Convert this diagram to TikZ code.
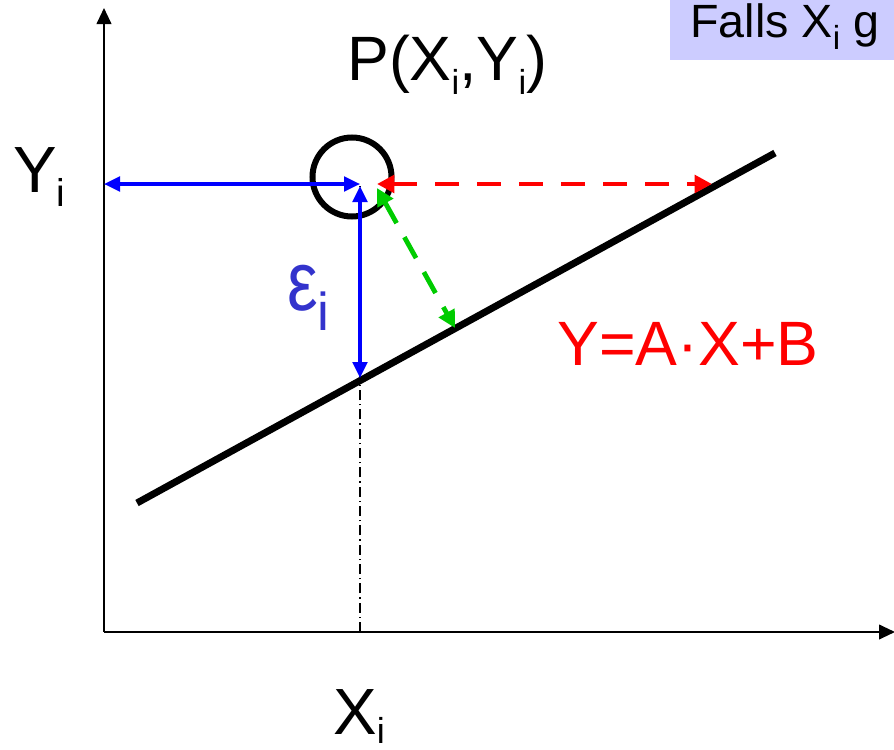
\documentclass[tikz,border=0pt]{standalone}
\usepackage{fontspec}
\setmainfont{Liberation Sans}
\usetikzlibrary{arrows.meta}
\definecolor{lav}{HTML}{CCCCFF}
\definecolor{epsblue}{HTML}{3333CC}
\definecolor{arrblue}{HTML}{0000FF}
\definecolor{arrred}{HTML}{FF0000}
\definecolor{arrgreen}{HTML}{00CC00}
\newcommand\mysub[3]{\raisebox{-#2}{\fontsize{#1}{#1}\selectfont #3}}
\begin{document}
\begin{tikzpicture}[x=0.75pt,y=-0.75pt,
  lbl/.style={inner sep=0pt,anchor=base west},
  axisline/.style={line width=1.5pt,-{Triangle[length=12pt,width=11pt]}},
  regline/.style={line width=5.25pt},
  bluearr/.style={arrblue,line width=2.4pt,{Triangle[length=12pt,width=11pt]}-{Triangle[length=12pt,width=11pt]}},
  redarr/.style={arrred,line width=3.6pt,dash pattern=on 18pt off 13.5pt,{Triangle[length=13pt,width=13pt]}-{Triangle[length=13pt,width=13pt]}},
  greenarr/.style={arrgreen,line width=3.6pt,dash pattern=on 18pt off 12pt,{Triangle[length=13pt,width=13pt]}-{Triangle[length=13pt,width=13pt]}},
  dashdotline/.style={line width=1.1pt,dash pattern=on 7.5pt off 3pt on 1pt off 3pt}
]
\useasboundingbox (0,0) rectangle (894,750);
% info box (cut off at right edge)
\node[fill=lav,inner sep=0pt,anchor=north west,minimum width=180pt,minimum height=45pt] (box) at (670,0) {};
\node[lbl] (falls) at (690,37) {\fontsize{35}{35}\selectfont Falls X\mysub{25pt}{9pt}{i} g};
% axes
\coordinate (O) at (104,632);
\coordinate (ytop) at (104,8);
\coordinate (xend) at (895,632);
\draw[axisline] (O) -- (ytop);
\draw[axisline] (O) -- (xend);
% regression line
\coordinate (L1) at (137,503);
\coordinate (L2) at (775,153);
\draw[regline] (L1) -- (L2);
% point
\node[circle,draw,line width=4.5pt,minimum size=59.25pt,inner sep=0pt] (pt) at (352,177) {};
% helper coordinates
\coordinate (Xfoot) at (360,632);
\coordinate (Yfoot) at (104,184);
\coordinate (Ph) at (360,184);
\coordinate (Pv) at (360,186);
\coordinate (Fv) at (360,378);
\coordinate (Pr) at (377,184);
\coordinate (Fr) at (712,184);
\coordinate (Pg) at (377,188);
\coordinate (Fg) at (455,328);
% lines
\draw[dashdotline] (Xfoot) -- (Pv);
\draw[bluearr] (Yfoot) -- (Ph);
\draw[bluearr] (Pv) -- (Fv);
\draw[redarr] (Pr) -- (Fr);
\draw[greenarr] (Pg) -- (Fg);
% labels
\node[lbl] (plabel) at (347,80) {\fontsize{47}{47}\selectfont P(X\mysub{26pt}{11pt}{i},Y\mysub{26pt}{11pt}{i})};
\node[lbl] (ylabel) at (13,192) {\fontsize{49}{49}\selectfont Y\mysub{29pt}{11pt}{i}};
\node[lbl] (xlabel) at (333,734) {\fontsize{49}{49}\selectfont X\mysub{27pt}{7pt}{i}};
\node[lbl,text=epsblue] (eps) at (287,310) {\resizebox{23pt}{34pt}{\fontsize{40}{40}\selectfont ε}\mysub{40pt}{15pt}{i}};
\node[lbl,text=arrred] (eq) at (557,365) {\fontsize{47}{47}\selectfont Y=A·X+B};
\end{tikzpicture}
\end{document}
